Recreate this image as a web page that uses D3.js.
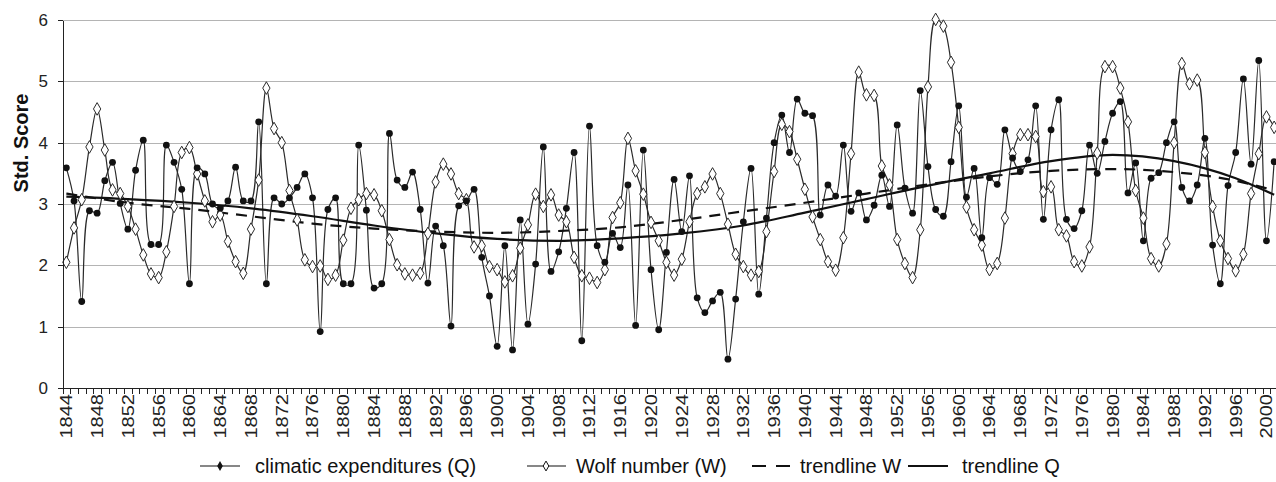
<!DOCTYPE html>
<meta charset="utf-8">
<style>
body { margin: 0; background: #fff; }
svg { font-family: "Liberation Sans", Arial, sans-serif; }
.grid line { stroke: #b4b4b4; stroke-width: 1; shape-rendering: crispEdges; }
.axis path, .axis line { stroke: #222; stroke-width: 1; fill: none; shape-rendering: crispEdges; }
.axis text { fill: #222; }
.serie { fill: none; stroke: #2a2a2a; stroke-width: 1.2; }
</style>
<body>
<script src="https://d3js.org/d3.v7.min.js"></script>
<script>
// years 1844 .. 2001
var firstYear = 1844, lastYear = 2001;
var years = d3.range(firstYear, lastYear + 1);

// climatic expenditures (Q)
var qValues = [
3.59,3.05,1.41,2.89,2.85,3.38,3.68,3.01,2.59,3.55, // 1844-1853
4.04,2.34,2.34,3.96,3.68,3.24,1.70,3.59,3.49,3.00, // 1854-1863
2.93,3.05,3.60,3.05,3.05,4.34,1.70,3.10,3.00,3.10, // 1864-1873
3.27,3.49,3.10,0.92,2.91,3.10,1.70,1.70,3.96,2.90, // 1874-1883
1.63,1.70,4.15,3.39,3.27,3.52,2.91,1.71,2.64,2.32, // 1884-1893
1.01,2.97,3.05,3.24,2.13,1.50,0.68,2.32,0.62,2.74, // 1894-1903
1.04,2.02,3.93,1.90,2.22,2.93,3.84,0.77,4.27,2.32, // 1904-1913
2.05,2.52,2.29,3.31,1.02,3.88,1.93,0.95,2.21,3.40, // 1914-1923
2.55,3.46,1.47,1.23,1.42,1.56,0.47,1.45,2.71,3.58, // 1924-1933
1.53,2.77,4.00,4.45,3.84,4.71,4.48,4.44,2.82,3.31, // 1934-1943
3.13,3.96,2.88,3.18,2.74,2.98,3.47,2.96,4.29,3.26, // 1944-1953
2.85,4.85,3.61,2.91,2.80,3.69,4.60,3.11,3.58,2.45, // 1954-1963
3.43,3.32,4.21,3.75,3.53,3.72,4.60,2.75,4.21,4.70, // 1964-1973
2.75,2.60,2.89,3.96,3.50,4.02,4.48,4.67,3.18,3.67, // 1974-1983
2.40,3.42,3.51,4.00,4.34,3.27,3.05,3.31,4.07,2.33, // 1984-1993
1.70,3.30,3.84,5.04,3.65,5.34,2.40,3.69            // 1994-2001
];

// Wolf number (W)
var wValues = [
2.05,2.61,3.07,3.93,4.55,3.88,3.23,3.17,2.96,2.59, // 1844-1853
2.17,1.86,1.80,2.22,2.96,3.84,3.92,3.49,3.05,2.71, // 1854-1863
2.82,2.39,2.06,1.87,2.59,3.39,4.89,4.23,4.00,3.22, // 1864-1873
2.74,2.09,1.98,1.99,1.77,1.84,2.41,2.93,3.07,3.17, // 1874-1883
3.15,2.89,2.42,2.01,1.86,1.84,1.87,2.52,3.36,3.65, // 1884-1893
3.49,3.17,3.07,2.30,2.32,1.98,1.93,1.73,1.83,2.28, // 1894-1903
2.66,3.16,2.96,3.15,2.82,2.71,2.13,1.83,1.79,1.72, // 1904-1913
1.93,2.78,3.02,4.07,3.54,3.16,2.70,2.40,2.05,1.84, // 1914-1923
2.10,2.71,3.17,3.28,3.49,3.17,2.67,2.18,1.98,1.84, // 1924-1933
1.90,2.55,3.53,4.30,4.18,3.73,3.24,2.79,2.42,2.06, // 1934-1943
1.92,2.45,3.82,5.15,4.78,4.77,3.62,3.31,2.42,2.03, // 1944-1953
1.80,2.58,4.91,6.01,5.90,5.31,4.25,2.95,2.58,2.33, // 1954-1963
1.93,2.03,2.77,3.82,4.13,4.13,4.10,3.20,3.28,2.58, // 1964-1973
2.48,2.06,1.99,2.30,3.83,5.24,5.24,4.89,4.34,3.22, // 1974-1983
2.77,2.11,1.99,2.35,4.00,5.29,4.96,5.02,3.84,2.96, // 1984-1993
2.40,2.11,1.91,2.18,3.17,3.82,4.42,4.25            // 1994-2001
];

// trendlines at a few years
var trendYears = [1844,1852,1860,1868,1876,1884,1892,1900,1908,1916,1924,1932,1940,1948,1956,1964,1972,1980,1988,1996,2001];
var trendW = [3.17,3.02,2.92,2.80,2.68,2.60,2.55,2.53,2.56,2.62,2.74,2.88,3.02,3.17,3.32,3.45,3.54,3.57,3.52,3.38,3.22];
var trendQ = [3.12,3.08,3.02,2.93,2.80,2.65,2.52,2.43,2.40,2.44,2.52,2.65,2.86,3.08,3.30,3.50,3.70,3.80,3.70,3.42,3.15];

var yTicks = [0,1,2,3,4,5,6];
var labelYears = years.filter(function(y) { return (y - firstYear) % 4 == 0; });

var width = 1276, height = 482;
var plotLeft = 62.5, plotRight = 1278, plotTop = 20, plotBottom = 388;

var svg = d3.select("body").append("svg")
	.attr("width", width)
	.attr("height", height);

svg.append("rect").attr("width", width).attr("height", height).attr("fill", "#fff");

var x = d3.scaleBand().domain(years).range([plotLeft, plotRight]).padding(0);
var y = d3.scaleLinear().domain([0, 6]).range([plotBottom, plotTop]);
var cx = function(yr) { return x(yr) + x.bandwidth() / 2; };

// gridlines
svg.append("g")
	.attr("class", "grid")
	.selectAll("line")
	.data(yTicks.filter(function(t) { return t > 0; }))
	.enter().append("line")
	.attr("x1", plotLeft).attr("x2", width)
	.attr("y1", function(d) { return Math.round(y(d)) + 0.5; })
	.attr("y2", function(d) { return Math.round(y(d)) + 0.5; });

// series lines
var line = d3.line()
	.x(function(d) { return cx(d[0]); })
	.y(function(d) { return y(d[1]); })
	.curve(d3.curveCatmullRom.alpha(0.5));

var qData = years.map(function(yr, i) { return [yr, qValues[i]]; });
var wData = years.map(function(yr, i) { return [yr, wValues[i]]; });

svg.append("path").attr("class", "serie").attr("d", line(wData));
svg.append("path").attr("class", "serie").attr("d", line(qData));

// trendlines
var tline = d3.line()
	.x(function(d) { return cx(d[0]); })
	.y(function(d) { return y(d[1]); })
	.curve(d3.curveMonotoneX);

svg.append("path")
	.attr("d", tline(trendYears.map(function(yr, i) { return [yr, trendW[i]]; })))
	.attr("fill", "none").attr("stroke", "#111").attr("stroke-width", 2.2)
	.attr("stroke-dasharray", "11,8");

svg.append("path")
	.attr("d", tline(trendYears.map(function(yr, i) { return [yr, trendQ[i]]; })))
	.attr("fill", "none").attr("stroke", "#111").attr("stroke-width", 2.2);

// markers
var diamond = d3.symbol().type(d3.symbolDiamond).size(46);

svg.append("g").selectAll("path")
	.data(wData)
	.enter().append("path")
	.attr("d", diamond)
	.attr("transform", function(d) { return "translate(" + cx(d[0]) + "," + y(d[1]) + ")"; })
	.attr("fill", "#fff").attr("stroke", "#2a2a2a").attr("stroke-width", 1);

svg.append("g").selectAll("circle")
	.data(qData)
	.enter().append("circle")
	.attr("cx", function(d) { return cx(d[0]); })
	.attr("cy", function(d) { return y(d[1]); })
	.attr("r", 3.4)
	.attr("fill", "#111");

// y axis
var yAxis = d3.axisLeft(y).tickValues(yTicks).tickFormat(d3.format("d"))
	.tickSize(5).tickSizeOuter(0).tickPadding(10);
svg.append("g")
	.attr("class", "axis")
	.attr("transform", "translate(" + Math.round(plotLeft) + ",0)")
	.call(yAxis)
	.selectAll("text").style("font-size", "17px");

// x axis: a tick between every year, a label every 4 years
var xAxis = d3.axisBottom(x).tickValues(labelYears).tickSize(0).tickPadding(0);
var gx = svg.append("g")
	.attr("class", "axis")
	.attr("transform", "translate(0," + plotBottom + ")")
	.call(xAxis);
gx.select(".domain").attr("d", "M" + plotLeft + ",0.5H" + width);
gx.selectAll("text")
	.style("font-size", "17px")
	.attr("text-anchor", "end")
	.attr("transform", "translate(0,6) rotate(-90) scale(1.18,1)")
	.attr("x", 0).attr("y", 0).attr("dy", "0.35em");

gx.append("g").selectAll("line")
	.data(years)
	.enter().append("line")
	.attr("x1", function(d) { return Math.round(x(d)) + 0.5; })
	.attr("x2", function(d) { return Math.round(x(d)) + 0.5; })
	.attr("y1", 0).attr("y2", 6);

// y title
svg.append("text")
	.attr("transform", "translate(28,143) rotate(-90)")
	.attr("text-anchor", "middle")
	.style("font-size", "20px")
	.style("font-weight", "bold")
	.attr("fill", "#111")
	.text("Std. Score");

// legend
var ly = 466;
var lg = svg.append("g").attr("fill", "#111").style("font-size", "20px");

lg.append("line").attr("x1", 200).attr("x2", 240).attr("y1", ly).attr("y2", ly).attr("stroke", "#111").attr("stroke-width", 1.2);
lg.append("path").attr("d", d3.symbol().type(d3.symbolDiamond).size(28)).attr("transform", "translate(220," + ly + ")").attr("fill", "#111");
lg.append("text").attr("x", 255).attr("y", ly + 7).text("climatic expenditures (Q)");

lg.append("line").attr("x1", 527).attr("x2", 566).attr("y1", ly).attr("y2", ly).attr("stroke", "#111").attr("stroke-width", 1.2);
lg.append("path").attr("d", d3.symbol().type(d3.symbolDiamond).size(28)).attr("transform", "translate(546," + ly + ")").attr("fill", "#fff").attr("stroke", "#111");
lg.append("text").attr("x", 576).attr("y", ly + 7).text("Wolf number (W)");

lg.append("line").attr("x1", 752).attr("x2", 791).attr("y1", ly).attr("y2", ly).attr("stroke", "#111").attr("stroke-width", 2.2).attr("stroke-dasharray", "14,10");
lg.append("text").attr("x", 800).attr("y", ly + 7).text("trendline W");

lg.append("line").attr("x1", 908).attr("x2", 948).attr("y1", ly).attr("y2", ly).attr("stroke", "#111").attr("stroke-width", 2.2);
lg.append("text").attr("x", 962).attr("y", ly + 7).text("trendline Q");
</script>
